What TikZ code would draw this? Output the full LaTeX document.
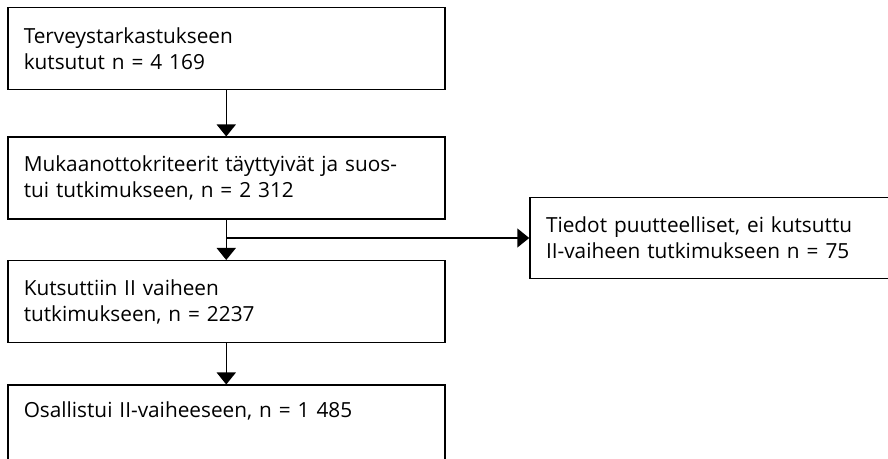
\documentclass[tikz,border=0pt]{standalone}
\usepackage{fontspec}
\setmainfont{Open Sans}
\usetikzlibrary{arrows.meta, positioning, calc}
\tikzset{box/.style={rectangle,draw,line width=0.75pt,text width=202.5pt,align=left,inner xsep=8pt,inner ysep=0pt,minimum width=218.5pt,minimum height=41pt,font=\fontsize{10.4}{13}\selectfont},
         sidebox/.style={box,text width=260pt,minimum width=276pt,minimum height=40.5pt},
         arrow/.style={-{Triangle[width=9.5pt,length=6pt]},line width=0.75pt}}

\begin{document}
\begin{tikzpicture}[x=0.5pt,y=-0.5pt,node distance=20pt]
    \clip (0,0) rectangle (888,459);
    \node (d0) [box, anchor=north west] at (7,7) {Terveystarkastukseen\\kutsutut n = 4 169};
    \node (d1) [box, below=23pt of d0] {Mukaanottokriteerit täyttyivät ja suos-\\tui tutkimukseen, n = 2 312};
    \node (d2) [box, below=of d1] {Kutsuttiin II vaiheen\\tutkimukseen, n = 2237};
    \node (d3) [box, below=20.5pt of d2, text height=16pt, text depth=100pt] {Osallistui II-vaiheeseen, n = 1 485};
    \coordinate (split) at ($(d1.south)!0.45!(d2.north)$);
    \node (d4) [sidebox, right=151.5pt of split] {Tiedot puutteelliset, ei kutsuttu\\II-vaiheen tutkimukseen n = 75};
    \foreach \i/\j in {d0/d1,d1/d2,d2/d3} {\draw[arrow] (\i) -- (\j);}
    \draw[arrow] (split) -- (d4);
  \end{tikzpicture}
\end{document}
